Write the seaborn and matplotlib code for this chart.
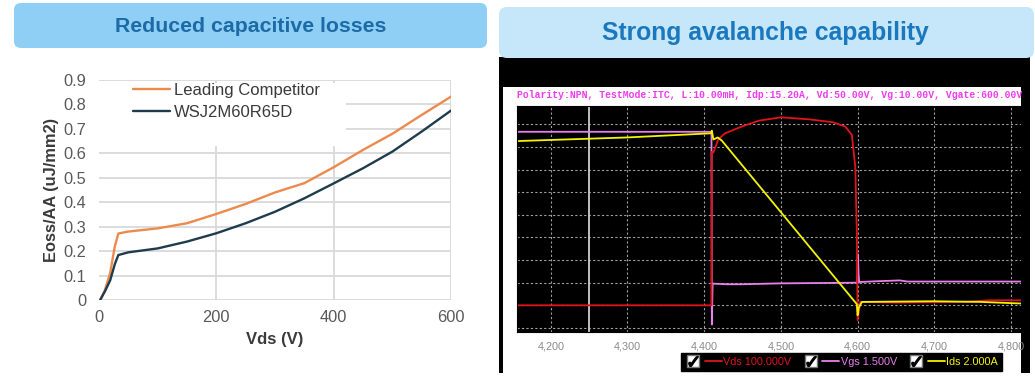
import numpy as np
import pandas as pd
import matplotlib
matplotlib.use("Agg")
import matplotlib.pyplot as plt
import seaborn as sns
from matplotlib.patches import FancyBboxPatch, Rectangle
from matplotlib.lines import Line2D
from matplotlib.legend_handler import HandlerTuple
from matplotlib.ticker import FixedLocator, MultipleLocator, FuncFormatter
from matplotlib.transforms import IdentityTransform

# ---------------- data: left chart (Eoss per active area) ----------------
vds_v = [2, 10, 19, 27, 33, 50, 100, 150, 200, 250, 300, 350, 400, 450, 500, 550, 600]
eoss_competitor = [0, 0.04, 0.11, 0.22, 0.272, 0.28, 0.293, 0.314, 0.352, 0.393, 0.44,
                   0.478, 0.543, 0.614, 0.68, 0.757, 0.832]
eoss_wsj = [0, 0.035, 0.08, 0.147, 0.184, 0.195, 0.211, 0.239, 0.273, 0.314, 0.361,
            0.416, 0.477, 0.539, 0.607, 0.689, 0.775]
left_series = ["Leading Competitor", "WSJ2M60R65D"]
left_xticks = [0, 200, 400, 600]
left_yticks = [0, 0.1, 0.2, 0.3, 0.4, 0.5, 0.6, 0.7, 0.8, 0.9]

# ---------------- data: right chart (avalanche waveform, screen divisions) ----------------
t_vds = [4156, 4409.5, 4410, 4412, 4418.5, 4427, 4449, 4471, 4500, 4537, 4568, 4584,
         4592.5, 4597, 4599, 4600, 4603.5, 4650, 4739, 4771, 4813]
div_vds = [1.0, 1.0, 7.79, 7.75, 8.34, 8.6, 8.9, 9.16, 9.31, 9.22, 9.09, 8.9,
           8.53, 7.13, 4.18, 0.34, 1.15, 1.12, 1.15, 1.22, 1.22]
t_vgs = [4156, 4409.5, 4410, 4411, 4430, 4449, 4500, 4599.5, 4600.4, 4601.2, 4602,
         4630, 4655, 4665, 4813]
div_vgs = [8.67, 8.67, 0.15, 1.96, 1.93, 1.93, 1.97, 2.0, 3.25, 2.4, 2.03, 2.07, 2.1,
           2.05, 2.05]
t_ids = [4156, 4300, 4407, 4408.8, 4410, 4412, 4417.6, 4423, 4599, 4600, 4601.5,
         4605.7, 4700, 4760, 4813]
div_ids = [8.26, 8.42, 8.6, 8.6, 8.72, 8.33, 8.42, 8.28, 1.05, 0.56, 0.9, 1.15, 1.18,
           1.15, 1.08]
cursor_t = [4250]
right_xticks = [4200, 4300, 4400, 4500, 4600, 4700, 4800]
right_ygrid = [0, 1, 2, 3, 4, 5, 6, 7, 8, 9]
right_series = ["Vds 100.000V", "Vgs 1.500V", "Ids 2.000A"]
right_title = ("Polarity:NPN, TestMode:ITC, L:10.00mH, Idp:15.20A, Vd:50.00V, "
               "Vg:10.00V, Vgate:600.00V")
titles = ["Reduced capacitive losses", "Strong avalanche capability"]

# ---------------- figure setup ----------------
W, H = 1035, 381
sns.set_style("white")
plt.rcParams["font.family"] = ["Liberation Sans", "DejaVu Sans"]
fig = plt.figure(figsize=(W / 100, H / 100), dpi=100)
fig.patch.set_facecolor("white")


def axrect(x0, y0, x1, y1):
    return [x0 / W, 1 - y1 / H, (x1 - x0) / W, (y1 - y0) / H]


def fx(x):
    return x / W


def fy(y):
    return 1 - y / H


def box(x0, y0, x1, y1, color, rounding=0, z=-10):
    if rounding:
        p = FancyBboxPatch((x0, H - y1), x1 - x0, y1 - y0,
                           boxstyle=f"round,pad=0,rounding_size={rounding}",
                           transform=IdentityTransform(), facecolor=color,
                           edgecolor="none", zorder=z)
    else:
        p = Rectangle((x0, H - y1), x1 - x0, y1 - y0, transform=IdentityTransform(),
                      facecolor=color, edgecolor="none", zorder=z)
    fig.patches.append(p)


# backgrounds
box(14, 3, 487, 48, "#8fcff5", rounding=7, z=-10)
box(499, 57, 1030, 373, "black", z=-10)
box(503, 87, 1021, 374, "white", z=-9)
box(499, 7, 1034, 58, "#c6e7f9", rounding=8, z=-8)

fig.text(fx(251), fy(27), titles[0], ha="center", va="center", fontsize=15.3,
         fontweight="bold", color="#1c6ba6")
fig.text(fx(765), fy(33), titles[1], ha="center", va="center", fontsize=17.8,
         fontweight="bold", color="#1a78bf")

# ---------------- left chart ----------------
axL = fig.add_axes(axrect(99, 80, 451, 300))
axL.set_facecolor("white")
left_df = pd.DataFrame({
    "Vds": vds_v + vds_v,
    "Eoss": eoss_competitor + eoss_wsj,
    "series": [left_series[0]] * len(vds_v) + [left_series[1]] * len(vds_v),
})
sns.lineplot(data=left_df, x="Vds", y="Eoss", hue="series",
             palette={left_series[0]: "#ec8a4e", left_series[1]: "#1f3b4e"},
             linewidth=1.7, ax=axL, legend=False, sort=False, estimator=None)
axL.set_xlim(0, 600)
axL.set_ylim(0, 0.9)
axL.xaxis.set_major_locator(FixedLocator(left_xticks))
axL.yaxis.set_major_locator(FixedLocator(left_yticks))
axL.yaxis.set_major_formatter(FuncFormatter(lambda v, p: "0" if v == 0 else f"{v:.1f}"))
axL.set_axisbelow(True)
axL.grid(True, color="#d9d9d9", linewidth=1.3)
axL.get_xgridlines()[0].set_visible(False)
for s in axL.spines.values():
    s.set_visible(False)
axL.tick_params(axis="both", length=0, labelsize=11.8, labelcolor="#5a5a5a")
axL.tick_params(axis="y", pad=9)
axL.tick_params(axis="x", pad=7)
axL.set_xlabel("Vds (V)", fontsize=12, fontweight="bold", color="#3a3a3a", labelpad=5)
axL.set_ylabel("Eoss/AA (uJ/mm2)", fontsize=11.8, fontweight="bold", color="#3a3a3a",
               labelpad=3)
axL.add_patch(Rectangle((0, 0.70), 0.703, 0.288, transform=axL.transAxes,
                        facecolor="white", edgecolor="none", zorder=1.2))
handlesL = [Line2D([], [], color="#ec8a4e", lw=1.7), Line2D([], [], color="#1f3b4e", lw=1.7)]
axL.legend(handlesL, left_series, loc="upper left", bbox_to_anchor=(fx(133), fy(83)),
           bbox_transform=fig.transFigure, frameon=False, fontsize=12, borderpad=0,
           borderaxespad=0, handlelength=2.2, handletextpad=0.25, labelspacing=0.42,
           labelcolor="#3a3a3a")

# ---------------- right chart ----------------
axR = fig.add_axes(axrect(517, 106, 1021, 332))
axR.set_facecolor("black")
right_df = pd.concat([
    pd.DataFrame({"t": t_vds, "div": div_vds, "ch": right_series[0]}),
    pd.DataFrame({"t": t_vgs, "div": div_vgs, "ch": right_series[1]}),
    pd.DataFrame({"t": t_ids, "div": div_ids, "ch": right_series[2]}),
], ignore_index=True)
right_colors = {right_series[0]: "#e0141c", right_series[1]: "#ea80ea",
                right_series[2]: "#f4f400"}
for c in cursor_t:
    axR.axvline(c, color="#d0d0d0", lw=1.3, zorder=1.5)
for name in [right_series[1], right_series[0], right_series[2]]:
    sub = right_df[right_df["ch"] == name]
    sns.lineplot(x=sub["t"], y=sub["div"], color=right_colors[name], linewidth=1.3,
                 ax=axR, sort=False, estimator=None, legend=False)
axR.set_xlim(4156, 4813)
axR.set_ylim(-0.18, 9.81)
axR.xaxis.set_major_locator(FixedLocator(right_xticks))
axR.xaxis.set_minor_locator(MultipleLocator(25))
axR.xaxis.set_major_formatter(FuncFormatter(lambda v, p: f"{int(v):,}"))
axR.yaxis.set_major_locator(FixedLocator(right_ygrid))
axR.set_yticklabels([])
axR.grid(True, which="major", color="#a0a0a0", linewidth=0.8, linestyle=(0, (2, 2)))
axR.set_axisbelow(True)
for s in axR.spines.values():
    s.set_color("black")
axR.tick_params(axis="x", which="both", direction="out", length=3, color="#909090",
                labelsize=7.8, labelcolor="#8a8a8a", pad=4)
axR.tick_params(axis="y", which="major", direction="out", length=3, color="#909090")
axR.set_xlabel("")
axR.set_ylabel("")

fig.text(fx(770), fy(95), right_title, ha="center", va="center", fontsize=7.0,
         family=["Liberation Mono", "DejaVu Sans Mono"], fontweight="bold",
         color="#ee3cee")

# legend with checkbox + line handles
check_handles = []
hmap = {}
for name in right_series:
    boxh = Line2D([], [], marker="s", markersize=9, markerfacecolor="white",
                  markeredgecolor="#777777", linestyle="none")
    tick = Line2D([], [], marker="$✓$", markersize=7, color="black", linestyle="none")
    ln = Line2D([], [], color=right_colors[name], lw=1.3)
    outer = ((boxh, tick), ln)
    check_handles.append(outer)
    hmap[outer] = HandlerTuple(ndivide=None, pad=0.3)
legR = axR.legend(check_handles, right_series, loc="upper left",
                  bbox_to_anchor=(fx(681), fy(353)), bbox_transform=fig.transFigure,
                  ncol=3, fontsize=7.8, frameon=True, facecolor="black",
                  edgecolor="black", framealpha=1, fancybox=False, borderpad=0.35,
                  borderaxespad=0, handlelength=3.4, handletextpad=0.15,
                  columnspacing=1.0, handler_map=hmap)
for txt, name in zip(legR.get_texts(), right_series):
    txt.set_color(right_colors[name])
legR.set_zorder(10)

fig.savefig("out.png", dpi=100)
